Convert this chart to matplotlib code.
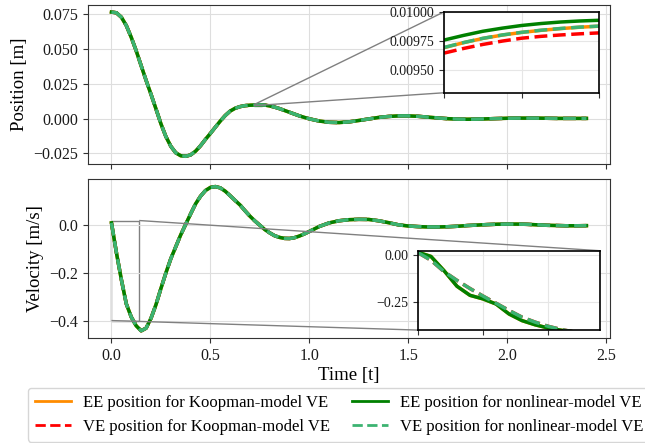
import matplotlib.pyplot as plt
from matplotlib.ticker import FuncFormatter
from mpl_toolkits.axes_grid1.inset_locator import mark_inset

# time samples
t = [0.0, 0.025, 0.05, 0.075, 0.1, 0.125, 0.15, 0.175, 0.2, 0.225, 0.25, 0.275,
     0.3, 0.325, 0.35, 0.375, 0.4, 0.425, 0.45, 0.475, 0.5, 0.525, 0.55, 0.575,
     0.6, 0.625, 0.65, 0.675, 0.7, 0.725, 0.75, 0.775, 0.8, 0.825, 0.85, 0.875,
     0.9, 0.925, 0.95, 0.975, 1.0, 1.05, 1.1, 1.15, 1.2, 1.25, 1.3, 1.35, 1.4,
     1.45, 1.5, 1.55, 1.6, 1.65, 1.7, 1.75, 1.8, 1.85, 1.9, 1.95, 2.0, 2.05,
     2.1, 2.15, 2.2, 2.25, 2.3, 2.35, 2.4]

position = [0.0767, 0.0762, 0.0730, 0.0670, 0.0585, 0.0488, 0.0381, 0.0275,
            0.0174, 0.0069, -0.0038, -0.0130, -0.0200, -0.0247, -0.0268,
            -0.0272, -0.0262, -0.0235, -0.0196, -0.0150, -0.0107, -0.0062,
            -0.0018, 0.0022, 0.0054, 0.0074, 0.0086, 0.0093, 0.0096, 0.00975,
            0.00985, 0.0097, 0.0091, 0.0082, 0.0071, 0.0058, 0.0045, 0.0032,
            0.0019, 0.0008, -0.0002, -0.0018, -0.0027, -0.0029, -0.0024,
            -0.0014, -0.0003, 0.0008, 0.0015, 0.0019, 0.0019, 0.0016, 0.0010,
            0.0004, -0.0001, -0.0004, -0.0005, -0.0004, -0.0002, 0.0, 0.0002,
            0.0003, 0.0003, 0.0003, 0.0002, 0.0001, 0.0001, 0.0001, 0.0001]

velocity = [0.010, -0.115, -0.228, -0.330, -0.385, -0.422, -0.443, -0.432,
            -0.390, -0.333, -0.265, -0.200, -0.140, -0.090, -0.040, 0.004,
            0.048, 0.090, 0.122, 0.146, 0.159, 0.1625, 0.157, 0.143, 0.124,
            0.104, 0.085, 0.061, 0.038, 0.018, 0.0, -0.018, -0.032, -0.044,
            -0.051, -0.055, -0.0555, -0.052, -0.045, -0.036, -0.026, -0.005,
            0.010, 0.019, 0.0235, 0.025, 0.0245, 0.019, 0.011, 0.002, -0.003,
            -0.0055, -0.007, -0.007, -0.006, -0.004, -0.001, 0.001, 0.003,
            0.0045, 0.005, 0.005, 0.004, 0.002, 0.0, -0.001, -0.002, -0.002,
            -0.0015]

# zoomed window of the position peak
t_zp = [0.720, 0.725, 0.730, 0.735, 0.740, 0.745, 0.750, 0.755, 0.760]
pz_koop_ee = [0.009690, 0.009733, 0.009770, 0.009799, 0.009822, 0.009840, 0.009855, 0.009867, 0.009876]
pz_koop_ve = [0.009643, 0.009683, 0.009718, 0.009747, 0.009772, 0.009788, 0.009800, 0.009810, 0.009818]
pz_nl_ee = [0.009756, 0.009796, 0.009832, 0.009859, 0.009882, 0.009899, 0.009912, 0.009921, 0.009927]
pz_nl_ve = [0.009692, 0.009734, 0.009771, 0.009800, 0.009823, 0.009841, 0.009856, 0.009868, 0.009877]

# zoomed window of the first velocity drop
t_zv = [0.0, 0.01, 0.02, 0.03, 0.04, 0.05, 0.06, 0.07, 0.08, 0.09, 0.10, 0.11, 0.12, 0.13, 0.14]
vz_ee = [0.012, -0.010, -0.085, -0.168, -0.216, -0.235, -0.262, -0.315, -0.350, -0.372, -0.389, -0.401, -0.410, -0.420, -0.428]
vz_ve = [0.010, -0.030, -0.090, -0.137, -0.180, -0.220, -0.258, -0.296, -0.332, -0.358, -0.380, -0.397, -0.410, -0.420, -0.428]

labels = ['EE position for Koopman-model VE', 'VE position for Koopman-model VE',
          'EE position for nonlinear-model VE', 'VE position for nonlinear-model VE']
styles = [('darkorange', '-'), ('red', '--'), ('green', '-'), ('mediumseagreen', '--')]

plt.rcParams['font.family'] = ['Liberation Serif', 'DejaVu Serif']
plt.rcParams['font.size'] = 11.5
plt.rcParams['axes.labelsize'] = 13.5
plt.rcParams['axes.edgecolor'] = '0.2'
plt.rcParams['xtick.color'] = '0.2'
plt.rcParams['ytick.color'] = '0.2'
plt.rcParams['xtick.labelcolor'] = '0.1'
plt.rcParams['ytick.labelcolor'] = '0.1'

LW = 2.5


def fmt(decimals):
    return FuncFormatter(lambda v, pos: f'{v:.{decimals}f}'.replace('-', '\u2212'))


def draw(ax, x, ys):
    for y, (c, ls), lab in zip(ys, styles, labels):
        ax.plot(x, y, color=c, ls=ls, lw=LW, label=lab)


def main():
    fig, (ax1, ax2) = plt.subplots(2, 1, sharex=True, figsize=(6.45, 4.43), dpi=100)
    fig.subplots_adjust(left=0.136, right=0.946, top=0.989, bottom=0.237, hspace=0.1)

    draw(ax1, t, [position] * 4)
    ax1.set_ylabel('Position [m]')
    ax1.set_yticks([-0.025, 0.0, 0.025, 0.05, 0.075])
    ax1.yaxis.set_major_formatter(fmt(3))
    ax1.grid(True, color='0.87', lw=0.8)

    draw(ax2, t, [velocity] * 4)
    ax2.set_ylabel('Velocity [m/s]')
    ax2.set_xlabel('Time [t]', labelpad=2)
    ax2.set_yticks([-0.4, -0.2, 0.0])
    ax2.yaxis.set_major_formatter(fmt(1))
    ax2.set_xticks([0.0, 0.5, 1.0, 1.5, 2.0, 2.5])
    ax2.grid(True, color='0.87', lw=0.8)

    # insets
    axin1 = ax1.inset_axes([0.682, 0.446, 0.297, 0.51])
    draw(axin1, t_zp, [pz_koop_ee, pz_koop_ve, pz_nl_ee, pz_nl_ve])
    axin1.set_xlim(0.72, 0.76)
    axin1.set_ylim(0.0093, 0.0100)
    axin1.set_xticks([0.72, 0.74, 0.76])
    axin1.set_xticklabels([])
    axin1.set_yticks([0.0095, 0.00975, 0.01])
    axin1.yaxis.set_major_formatter(fmt(5))
    axin1.tick_params(labelsize=10)
    axin1.grid(True, color='0.9', lw=0.8)
    mark_inset(ax1, axin1, loc1=2, loc2=3, fc='none', ec='0.5', lw=1)

    axin2 = ax2.inset_axes([0.632, 0.05, 0.349, 0.5])
    draw(axin2, t_zv, [vz_ee, vz_ve, vz_ee, vz_ve])
    axin2.set_xlim(0.0, 0.14)
    axin2.set_ylim(-0.40, 0.02)
    axin2.set_xticks([0.0, 0.05, 0.1])
    axin2.set_xticklabels([])
    axin2.set_yticks([-0.25, 0.0])
    axin2.yaxis.set_major_formatter(fmt(2))
    axin2.tick_params(labelsize=10)
    axin2.grid(True, color='0.9', lw=0.8)
    mark_inset(ax2, axin2, loc1=1, loc2=3, fc='none', ec='0.5', lw=1)

    for a in (axin1, axin2):
        for s in a.spines.values():
            s.set_edgecolor('black')
            s.set_linewidth(1.2)

    h, l = ax1.get_legend_handles_labels()
    leg = fig.legend(h, l, loc='upper left', bbox_to_anchor=(28 / 645, 1 - 388 / 443),
                     borderaxespad=0, ncol=2, columnspacing=1.3, handlelength=2.2,
                     handletextpad=0.7, fontsize=12)
    for line in leg.get_lines():
        line.set_linewidth(2)

    fig.savefig('out.png', dpi=100)


if __name__ == '__main__':
    main()
